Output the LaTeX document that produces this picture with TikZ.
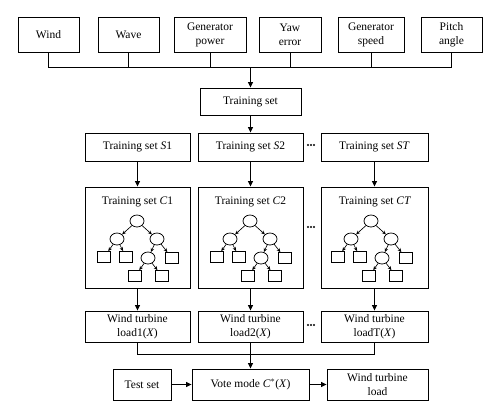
\documentclass[tikz,border=0pt]{standalone}
\usepackage{fontspec}
\setmainfont{Liberation Serif}
\usetikzlibrary{arrows.meta,shapes.geometric}
\begin{document}
\begin{tikzpicture}[x=1pt,y=-1pt,
  box/.style={draw,line width=0.9pt,align=center,inner sep=0pt,font=\fontsize{11.5}{14}\selectfont},
  sz/.style 2 args={minimum width=#1pt,minimum height=#2pt},
  arr/.style={-{Triangle[length=5.5pt,width=5pt]},line width=0.9pt},
  ln/.style={line width=0.9pt},
  tn/.style={draw,ellipse,minimum width=14pt,minimum height=12pt,inner sep=0pt,line width=0.75pt},
  tl/.style={draw,rectangle,minimum width=13pt,minimum height=11pt,inner sep=0pt,line width=0.75pt},
  ta/.style={-{Stealth[length=4pt,width=3.5pt]},line width=0.65pt},
  ttl/.style={font=\fontsize{11.5}{14}\selectfont,inner sep=0pt},
  tree/.pic={
    \node[tn] (-r) at (0,0) {};
    \node[tn] (-a) at (-20,18) {};
    \node[tn] (-b) at (20,18) {};
    \node[tl] (-aa) at (-33,36) {};
    \node[tl] (-ab) at (-11,36) {};
    \node[tn] (-ba) at (11,37) {};
    \node[tl] (-bb) at (35,37) {};
    \node[tl] (-baa) at (-2,55) {};
    \node[tl] (-bab) at (25,55) {};
    \draw[ta] (-r) -- (-a);
    \draw[ta] (-r) -- (-b);
    \draw[ta] (-a) -- (-aa);
    \draw[ta] (-a) -- (-ab);
    \draw[ta] (-b) -- (-ba);
    \draw[ta] (-b) -- (-bb);
    \draw[ta] (-ba) -- (-baa);
    \draw[ta] (-ba) -- (-bab);
  }
]
\useasboundingbox (0,0) rectangle (500,418);

% top row
\node[box,sz={61}{35}] (wind) at (48.5,34.5) {Wind};
\node[box,sz={61}{35}] (wave) at (128.5,34.5) {Wave};
\node[box,sz={72}{35}] (genp) at (210,34.5) {Generator\\power};
\node[box,sz={62}{35}] (yaw) at (290,34.5) {Yaw\\error};
\node[box,sz={66}{35}] (gens) at (371,34.5) {Generator\\speed};
\node[box,sz={61}{35}] (pitch) at (451.5,34.5) {Pitch\\angle};
\coordinate (bus) at (250.5,67);
\draw[ln] (wind.south) -- (wind.south |- bus) -- (pitch.south |- bus) -- (pitch.south);
\foreach \n in {wave,genp,yaw,gens} \draw[ln] (\n.south) -- (\n.south |- bus);

\node[box,sz={101}{27}] (train) at (250.5,101.5) {Training set};
\draw[arr] (bus) -- (train.north);

% S row
\node[box,sz={105}{28}] (s1) at (137.5,147) {Training set \textit{S}1};
\node[box,sz={105}{28}] (s2) at (250.5,147) {Training set \textit{S}2};
\node[box,sz={107}{28}] (st) at (374.5,147) {Training set \textit{ST}};
\draw[arr] (train.south) -- (s2.north);

% C row
\node[box,sz={105}{101}] (c1) at (137.5,237.5) {};
\node[box,sz={105}{101}] (c2) at (250.5,237.5) {};
\node[box,sz={107}{101}] (ct) at (374.5,237.5) {};
\node[ttl] (c1t) at (137.5,202) {Training set \textit{C}1};
\node[ttl] (c2t) at (250.5,202) {Training set \textit{C}2};
\node[ttl] (ctt) at (375,202) {Training set \textit{CT}};
\pic (t1) at (137,221) {tree};
\pic (t2) at (250,221) {tree};
\pic (t3) at (371,221) {tree};
\draw[arr] (s1.south) -- (c1.north);
\draw[arr] (s2.south) -- (c2.north);
\draw[arr] (st.south) -- (ct.north);

% load row
\node[box,sz={105}{31}] (l1) at (137.5,326.5) {Wind turbine\\load1(\textit{X})};
\node[box,sz={105}{31}] (l2) at (250.5,326.5) {Wind turbine\\load2(\textit{X})};
\node[box,sz={107}{31}] (lt) at (374.5,326.5) {Wind turbine\\loadT(\textit{X})};
\draw[arr] (c1.south) -- (l1.north);
\draw[arr] (c2.south) -- (l2.north);
\draw[arr] (ct.south) -- (lt.north);

% dots
\foreach \y in {145,227,325}{
  \foreach \dx in {-3,0,3} \fill (311+\dx,\y) circle (1.1pt);
}

% bottom row
\coordinate (bus2) at (250.5,354);
\draw[ln] (l1.south) -- (l1.south |- bus2) -- (lt.south |- bus2) -- (lt.south);
\draw[ln] (l2.south) -- (bus2);
\node[box,sz={58}{31}] (test) at (142,384.5) {Test set};
\node[box,sz={117}{31}] (vote) at (250.5,384.5) {Vote mode \textit{C}$^{*}$(\textit{X})};
\node[box,sz={101}{31}] (wtl) at (377.5,384.5) {Wind turbine\\load};
\draw[arr] (bus2) -- (vote.north);
\draw[arr] (test.east) -- (vote.west);
\draw[arr] (vote.east) -- (wtl.west);
\end{tikzpicture}
\end{document}
